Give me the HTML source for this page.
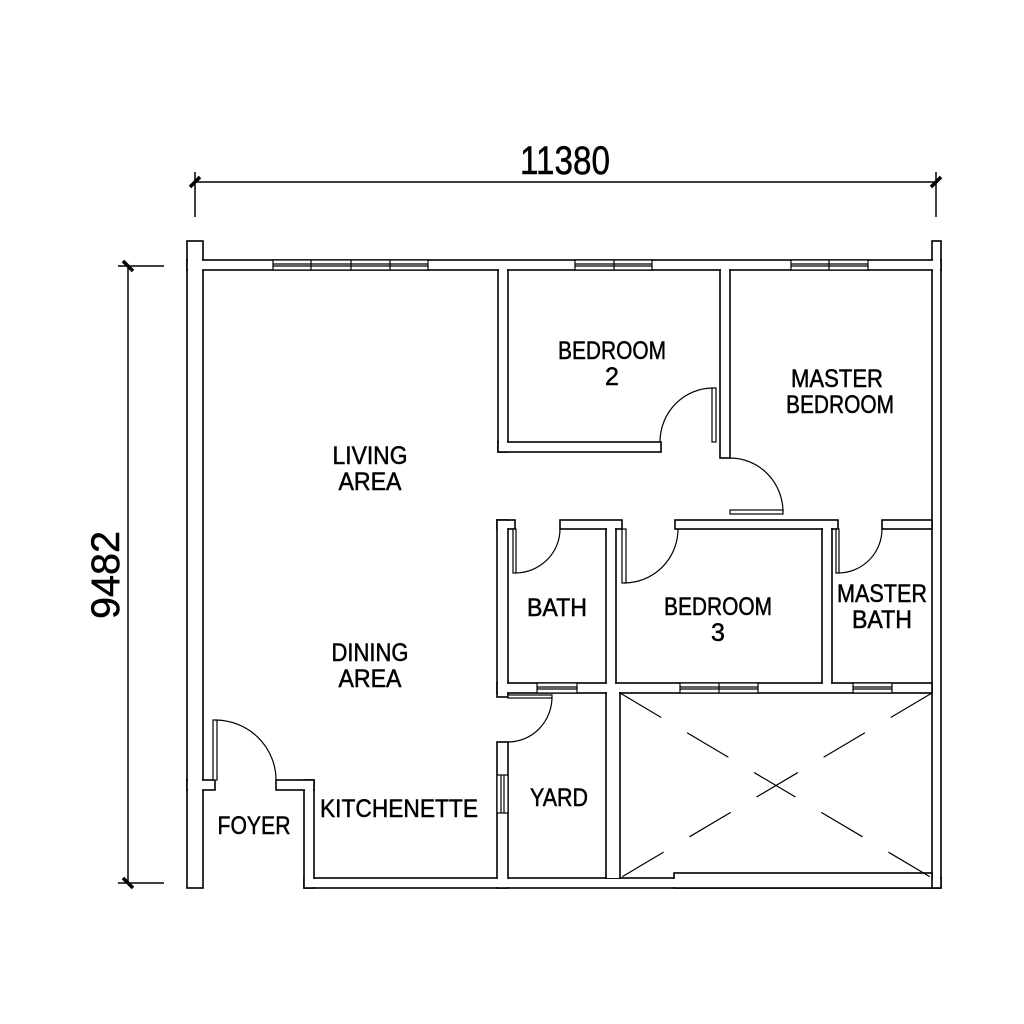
<!DOCTYPE html>
<html><head><meta charset="utf-8"><style>
html,body{margin:0;padding:0;background:#fff;width:1024px;height:1024px;overflow:hidden}
svg{display:block}
text{font-family:"Liberation Sans",sans-serif;fill:#000;stroke:#000;stroke-width:0.5;text-anchor:middle}
</style></head><body>
<svg width="1024" height="1024" viewBox="0 0 1024 1024" xmlns="http://www.w3.org/2000/svg">
<rect width="1024" height="1024" fill="#fff"/>
<g stroke="#000" stroke-width="1.5" fill="none">
<line x1="195" y1="172" x2="195" y2="217"/>
<line x1="936" y1="172" x2="936" y2="217"/>
<line x1="195" y1="182" x2="936" y2="182"/>
<line x1="118" y1="266" x2="164" y2="266"/>
<line x1="118" y1="883" x2="164" y2="883"/>
<line x1="128" y1="266" x2="128" y2="883"/>
</g>
<g stroke="#000" stroke-width="3.5">
<line x1="190" y1="187" x2="200" y2="177"/>
<line x1="931" y1="187" x2="941" y2="177"/>
<line x1="123" y1="261" x2="133" y2="271"/>
<line x1="123" y1="878" x2="133" y2="888"/>
</g>
<text x="565" y="174" font-size="40" textLength="90" lengthAdjust="spacingAndGlyphs">11380</text>
<text x="0" y="0" font-size="40" textLength="88" lengthAdjust="spacingAndGlyphs" transform="translate(119,575) rotate(-90)">9482</text>

<g stroke="#000" stroke-width="1.6" fill="#fff">
<rect x="187" y="241" width="16" height="539"/>
<rect x="187" y="780" width="16" height="108"/>
<rect x="932" y="241" width="9" height="647"/>
<rect x="187" y="260" width="754" height="10"/>
<rect x="304" y="878" width="637" height="10"/>
<rect x="674" y="873" width="258" height="15"/>
<rect x="304" y="780" width="10" height="108"/>
<rect x="276" y="780" width="38" height="10"/>
<rect x="187" y="780" width="28" height="10"/>
<rect x="498" y="270" width="10" height="182"/>
<rect x="498" y="442" width="163" height="10"/>
<rect x="720" y="270" width="10" height="188"/>
<rect x="497" y="520" width="18" height="9"/>
<rect x="560" y="520" width="62" height="9"/>
<rect x="675" y="520" width="163" height="9"/>
<rect x="882" y="520" width="50" height="9"/>
<rect x="497" y="520" width="11" height="177"/>
<rect x="606" y="529" width="10" height="154"/>
<rect x="822" y="529" width="10" height="154"/>
<rect x="497" y="683" width="435" height="10"/>
<rect x="497" y="742" width="11" height="146"/>
<rect x="606" y="693" width="14" height="185"/>
</g>
<g fill="#fff">
<rect x="188" y="242" width="14" height="537"/>
<rect x="188" y="779" width="14" height="108"/>
<rect x="933" y="242" width="7" height="645"/>
<rect x="202" y="261" width="730" height="8"/>
<rect x="305" y="879" width="626" height="8"/>
<rect x="675" y="874" width="256" height="13"/>
<rect x="305" y="781" width="8" height="106"/>
<rect x="277" y="781" width="36" height="8"/>
<rect x="188" y="781" width="26" height="8"/>
<rect x="499" y="269" width="8" height="182"/>
<rect x="499" y="443" width="161" height="8"/>
<rect x="721" y="269" width="8" height="188"/>
<rect x="498" y="521" width="16" height="7"/>
<rect x="561" y="521" width="60" height="7"/>
<rect x="676" y="521" width="161" height="7"/>
<rect x="883" y="521" width="48" height="7"/>
<rect x="498" y="521" width="9" height="175"/>
<rect x="607" y="528" width="8" height="156"/>
<rect x="823" y="528" width="8" height="156"/>
<rect x="498" y="684" width="433" height="8"/>
<rect x="498" y="743" width="9" height="144"/>
<rect x="607" y="692" width="12" height="186"/>
</g>

<g stroke="#000" stroke-width="1.2" fill="#fff">
<rect x="273" y="260" width="155" height="10"/>
<line x1="273" y1="264" x2="428" y2="264"/><line x1="273" y1="266" x2="428" y2="266"/>
<line x1="311" y1="260" x2="311" y2="270"/><line x1="351" y1="260" x2="351" y2="270"/><line x1="390" y1="260" x2="390" y2="270"/>
<rect x="575" y="260" width="77" height="10"/>
<line x1="575" y1="264" x2="652" y2="264"/><line x1="575" y1="266" x2="652" y2="266"/>
<line x1="614" y1="260" x2="614" y2="270"/>
<rect x="791" y="260" width="77" height="10"/>
<line x1="791" y1="264" x2="868" y2="264"/><line x1="791" y1="266" x2="868" y2="266"/>
<line x1="829" y1="260" x2="829" y2="270"/>
<rect x="537" y="683" width="40" height="10"/>
<line x1="537" y1="687" x2="577" y2="687"/><line x1="537" y1="689" x2="577" y2="689"/>
<rect x="680" y="683" width="78" height="10"/>
<line x1="680" y1="687" x2="758" y2="687"/><line x1="680" y1="689" x2="758" y2="689"/>
<line x1="719" y1="683" x2="719" y2="693"/>
<rect x="853" y="683" width="39" height="10"/>
<line x1="853" y1="687" x2="892" y2="687"/><line x1="853" y1="689" x2="892" y2="689"/>
<rect x="497" y="775" width="11" height="38"/>
<line x1="501" y1="775" x2="501" y2="813"/><line x1="504" y1="775" x2="504" y2="813"/>
</g>

<g stroke="#000" stroke-width="1.2" fill="#fff">
<rect x="712" y="388" width="4" height="54"/>
<rect x="730" y="510" width="53" height="4"/>
<rect x="513" y="529" width="3" height="44"/>
<rect x="622" y="529" width="4" height="54"/>
<rect x="836" y="529" width="3" height="44"/>
<rect x="508" y="695" width="44" height="3"/>
<rect x="213" y="720" width="4" height="60"/>
</g>
<g stroke="#000" stroke-width="1.2" fill="none">
<path d="M713,388 A53,54 0 0 0 660,442"/>
<path d="M783,512 A53,54 0 0 0 730,458"/>
<path d="M515,573 A45,44 0 0 0 560,529"/>
<path d="M624,583 A54,54 0 0 0 678,529"/>
<path d="M838,573 A44,44 0 0 0 882,529"/>
<path d="M552,697 A44,45 0 0 1 508,742"/>
<path d="M215,720 A61,60 0 0 1 276,780"/>
</g>

<g stroke="#000" stroke-width="1.2" fill="none" stroke-dasharray="48 30">
<line x1="620" y1="693" x2="932" y2="878"/>
<line x1="932" y1="693" x2="620" y2="878"/>
</g>

<g font-size="25" lengthAdjust="spacingAndGlyphs">
<text x="612" y="359" textLength="108" lengthAdjust="spacingAndGlyphs">BEDROOM</text><text x="612" y="385">2</text>
<text x="370" y="464" textLength="75" lengthAdjust="spacingAndGlyphs">LIVING</text><text x="370" y="490" textLength="63" lengthAdjust="spacingAndGlyphs">AREA</text>
<text x="837" y="387" textLength="92" lengthAdjust="spacingAndGlyphs">MASTER</text><text x="840" y="413" textLength="108" lengthAdjust="spacingAndGlyphs">BEDROOM</text>
<text x="557" y="616" textLength="60" lengthAdjust="spacingAndGlyphs">BATH</text>
<text x="718" y="615" textLength="108" lengthAdjust="spacingAndGlyphs">BEDROOM</text><text x="718" y="641">3</text>
<text x="882" y="602" textLength="90" lengthAdjust="spacingAndGlyphs">MASTER</text><text x="882" y="628" textLength="60" lengthAdjust="spacingAndGlyphs">BATH</text>
<text x="370" y="661" textLength="77" lengthAdjust="spacingAndGlyphs">DINING</text><text x="370" y="687" textLength="63" lengthAdjust="spacingAndGlyphs">AREA</text>
<text x="399" y="817" textLength="158" lengthAdjust="spacingAndGlyphs">KITCHENETTE</text>
<text x="254" y="834" textLength="73" lengthAdjust="spacingAndGlyphs">FOYER</text>
<text x="559" y="806" textLength="58" lengthAdjust="spacingAndGlyphs">YARD</text>
</g>
</svg>
</body></html>
